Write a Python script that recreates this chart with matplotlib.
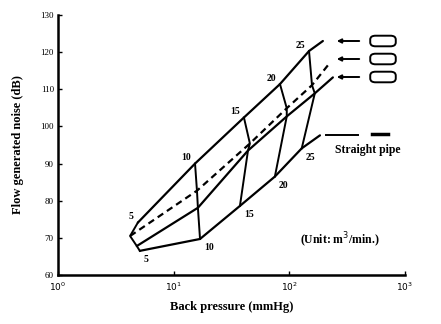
import matplotlib
matplotlib.use("Agg")
import matplotlib.pyplot as plt
from matplotlib.patches import FancyBboxPatch

plt.rcParams["font.family"] = ["Liberation Serif", "DejaVu Serif"]

# flow rates (m3/min) and the four measured curves
flows = [5, 10, 15, 20, 25]

# nozzle A (top, solid)
a_press = [4.9, 15.3, 40.5, 83, 148]
a_noise = [74.1, 90.0, 102.4, 111.4, 120.3]
# nozzle B (dashed)
b_press = [4.2, 15.9, 45.6, 95, 157]
b_noise = [70.5, 82.7, 95.4, 104.9, 111.1]
# nozzle C (solid)
c_press = [4.8, 16.2, 43.9, 95, 166]
c_noise = [67.8, 78.1, 93.5, 102.7, 108.9]
# straight pipe
d_press = [5.1, 16.9, 37.4, 75, 128]
d_noise = [66.5, 69.7, 78.6, 86.5, 94.1]

# line run-outs towards the legend arrows
end_press = [195, 216, 238, 184]
end_noise = [123.0, 116.5, 113.2, 97.6]

W, H = 441, 324
fig = plt.figure(figsize=(W / 100, H / 100), dpi=100, facecolor="white")
ax = fig.add_axes([58 / W, 1 - 275 / H, 347 / W, 260 / H])

curves = [(a_press, a_noise, "-"), (b_press, b_noise, (0, (3, 2))),
          (c_press, c_noise, "-"), (d_press, d_noise, "-")]
for i, (px, ny, ls) in enumerate(curves):
    ax.plot(px + [end_press[i]], ny + [end_noise[i]], color="black",
            linewidth=1.6, linestyle=ls, solid_capstyle="round")

# iso-flow lines
for k in range(len(flows)):
    xs = [a_press[k], b_press[k], c_press[k], d_press[k]]
    ys = [a_noise[k], b_noise[k], c_noise[k], d_noise[k]]
    ax.plot(xs, ys, color="black", linewidth=1.4)

# flow labels
lab_kw = dict(fontsize=7, fontweight="bold", color="black")
for k, f in enumerate(flows):
    ax.annotate(str(f), (a_press[k], a_noise[k]), textcoords="offset points",
                xytext=(-3, 1), ha="right", va="bottom", **lab_kw)
    ax.annotate(str(f), (d_press[k], d_noise[k]), textcoords="offset points",
                xytext=(3, -3), ha="left", va="top", **lab_kw)

ax.set_xscale("log")
ax.set_xlim(1, 1000)
ax.set_ylim(60, 130)
ax.set_yticks(range(60, 131, 10))
ax.set_xticks([1, 10, 100, 1000])
ax.set_xticklabels(["$10^0$", "$10^1$", "$10^2$", "$10^3$"])
ax.minorticks_off()
ax.tick_params(direction="in", length=3, width=1, labelsize=6.5)
ax.tick_params(axis="x", pad=4)
ax.tick_params(axis="y", pad=3)
for s in ["top", "right"]:
    ax.spines[s].set_visible(False)
for s in ["left", "bottom"]:
    ax.spines[s].set_linewidth(1.8)

ax.set_ylabel("Flow generated noise (dB)", fontsize=9, fontweight="bold", labelpad=12)
ax.set_xlabel("Back pressure (mmHg)", fontsize=9, fontweight="bold", labelpad=6)

# legend arrows and nozzle shapes
def fx(px):
    return px / W

def fy(py):
    return 1 - py / H

for yy in [41, 59, 77]:
    fig.add_artist(matplotlib.patches.FancyArrowPatch(
        (fx(362), fy(yy)), (fx(334), fy(yy)), transform=fig.transFigure,
        arrowstyle="-|>", mutation_scale=6, color="black", linewidth=1.4))
    fig.add_artist(FancyBboxPatch((fx(372), fy(yy + 4)), fx(22), 8 / H,
                                  boxstyle="round,pad=0.004,rounding_size=0.012",
                                  transform=fig.transFigure, fill=False,
                                  edgecolor="black", linewidth=1.4))

fig.add_artist(plt.Line2D([fx(326), fx(358)], [fy(135), fy(135)],
                          transform=fig.transFigure, color="black", linewidth=1.4))
fig.add_artist(plt.Line2D([fx(372), fx(388)], [fy(134), fy(134)],
                          transform=fig.transFigure, color="black", linewidth=2.5))
fig.text(fx(335), fy(150), "Straight pipe", fontsize=8.5, fontweight="bold",
         ha="left", va="center")
fig.text(fx(340), fy(240), "(Unit: m$^3$/min.)", fontsize=8.5, fontweight="bold",
         ha="center", va="center")

fig.savefig("out.png", dpi=100, facecolor="white")
